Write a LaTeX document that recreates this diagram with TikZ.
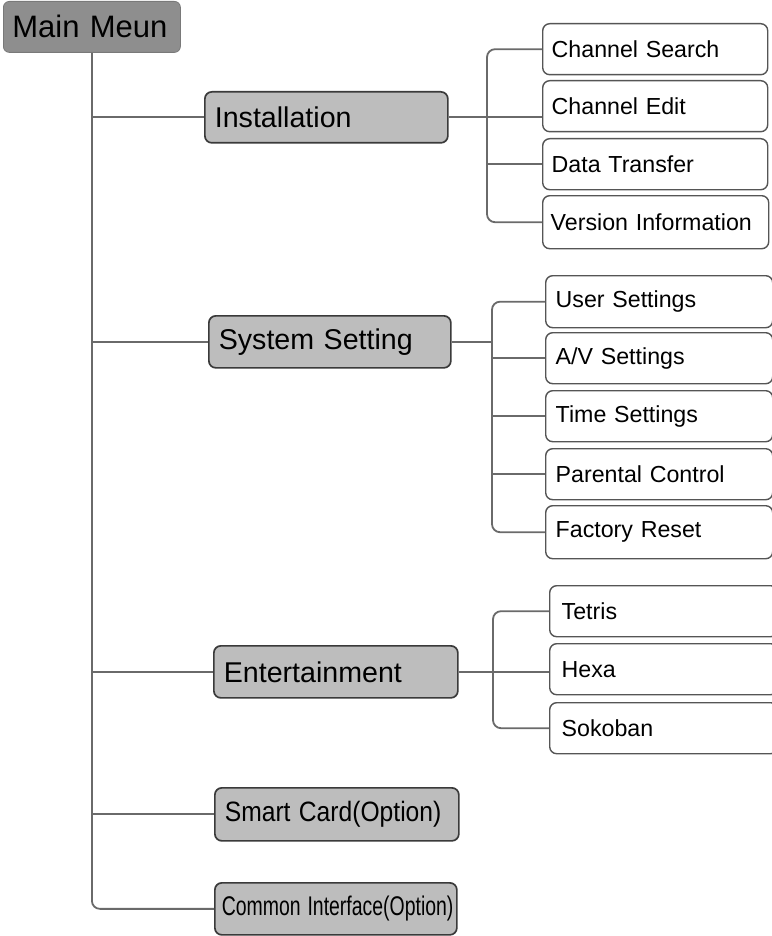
\documentclass[tikz,border=0pt]{standalone}
\usepackage{fontspec}
\usepackage{graphicx}
\setmainfont{Liberation Sans}
\definecolor{mainfill}{HTML}{8E8E8E}
\definecolor{lvlfill}{HTML}{BDBDBD}
\definecolor{lvldraw}{HTML}{3A3A3A}
\definecolor{kiddraw}{HTML}{555555}
\definecolor{linecol}{HTML}{6A6A6A}
\tikzset{
  lvlzero/.style={rectangle, rounded corners=6pt, fill=mainfill, draw=mainfill!85!black, line width=0.8pt,
    anchor=north west, align=left, inner xsep=9pt, inner ysep=0pt,
    font=\fontsize{31}{31}\selectfont},
  lvlone/.style={rectangle, rounded corners=7pt, fill=lvlfill, draw=lvldraw, line width=1.7pt,
    anchor=north west, align=left, inner xsep=10pt, inner ysep=0pt,
    font=\fontsize{28.6}{29}\selectfont},
  kid/.style={rectangle, rounded corners=7pt, fill=white, draw=kiddraw, line width=1.4pt,
    anchor=north west, align=left, inner xsep=9pt, inner ysep=0pt,
    font=\fontsize{23.2}{24}\selectfont},
  conn/.style={draw=linecol, line width=1.8pt},
  rconn/.style={conn, rounded corners=8pt}
}
\begin{document}
\begin{tikzpicture}[x=1pt,y=-1pt]
\useasboundingbox[fill=white] (0,0) rectangle (771,936);

% root
\node[lvlzero, text width=159pt, minimum height=51pt] (main) at (3,1) {Main Meun};

% level one
\node[lvlone, text width=223pt, minimum height=51pt] (inst) at (204,91) {Installation};
\node[lvlone, text width=222pt, minimum height=52pt] (sys) at (208,315) {System Setting};
\node[lvlone, text width=224pt, minimum height=52pt] (ent) at (213,645) {Entertainment};
\node[lvlone, text width=224pt, minimum height=53pt] (sc) at (214,787) {\scalebox{0.88}[1]{\fontsize{28}{28}\selectfont Smart Card(Option)}};
\node[lvlone, text width=228pt, minimum height=52pt, inner xsep=7pt] (ci) at (214,882) {\scalebox{0.72}[1]{\fontsize{27}{27}\selectfont Common Interface(Option)}};

% installation children
\node[kid, text width=207pt, minimum height=51pt] (cs) at (542,23) {Channel Search};
\node[kid, text width=207pt, minimum height=51pt] (ce) at (542,80) {Channel Edit};
\node[kid, text width=207pt, minimum height=51pt] (dt) at (542,138) {Data Transfer};
\node[kid, text width=210pt, minimum height=53pt, inner xsep=8pt] (vi) at (542,195) {\mbox{Version Information}};

% system children
\node[kid, text width=207pt, minimum height=52pt, inner xsep=10pt] (us) at (545,275) {User Settings};
\node[kid, text width=207pt, minimum height=51pt, inner xsep=10pt] (av) at (545,332) {A/V Settings};
\node[kid, text width=207pt, minimum height=51pt, inner xsep=10pt] (ts) at (545,390) {Time Settings};
\node[kid, text width=207pt, minimum height=51pt, inner xsep=10pt] (pc) at (545,448) {Parental Control};
\node[kid, text width=207pt, minimum height=53pt, inner xsep=10pt] (fr) at (545,505) {Factory Reset};

% entertainment children
\node[kid, text width=204pt, minimum height=51pt, inner xsep=12pt] (te) at (549,585) {Tetris};
\node[kid, text width=204pt, minimum height=51pt, inner xsep=12pt] (hx) at (549,643) {Hexa};
\node[kid, text width=204pt, minimum height=51pt, inner xsep=12pt] (sk) at (549,702) {Sokoban};

% branch coordinates
\coordinate (b1) at (487,0);
\coordinate (b2) at (492,0);
\coordinate (b3) at (493,0);

% trunk
\draw[rconn] (main.south) |- (ci.west);
\draw[conn] (main.south |- inst.west) -- (inst.west);
\draw[conn] (main.south |- sys.west) -- (sys.west);
\draw[conn] (main.south |- ent.west) -- (ent.west);
\draw[conn] (main.south |- sc.west) -- (sc.west);

% installation branch
\draw[conn] (inst.east) -- (inst.east -| ce.west);
\draw[rconn] (cs.west) -- (cs.west -| b1) -- (vi.west -| b1) -- (vi.west);
\draw[conn] (dt.west -| b1) -- (dt.west);

% system branch
\draw[conn] (sys.east) -- (sys.east -| b2);
\draw[rconn] (us.west) -- (us.west -| b2) -- (fr.west -| b2) -- (fr.west);
\draw[conn] (av.west -| b2) -- (av.west);
\draw[conn] (ts.west -| b2) -- (ts.west);
\draw[conn] (pc.west -| b2) -- (pc.west);

% entertainment branch
\draw[conn] (ent.east) -- (ent.east -| hx.west);
\draw[rconn] (te.west) -- (te.west -| b3) -- (sk.west -| b3) -- (sk.west);
\end{tikzpicture}
\end{document}
